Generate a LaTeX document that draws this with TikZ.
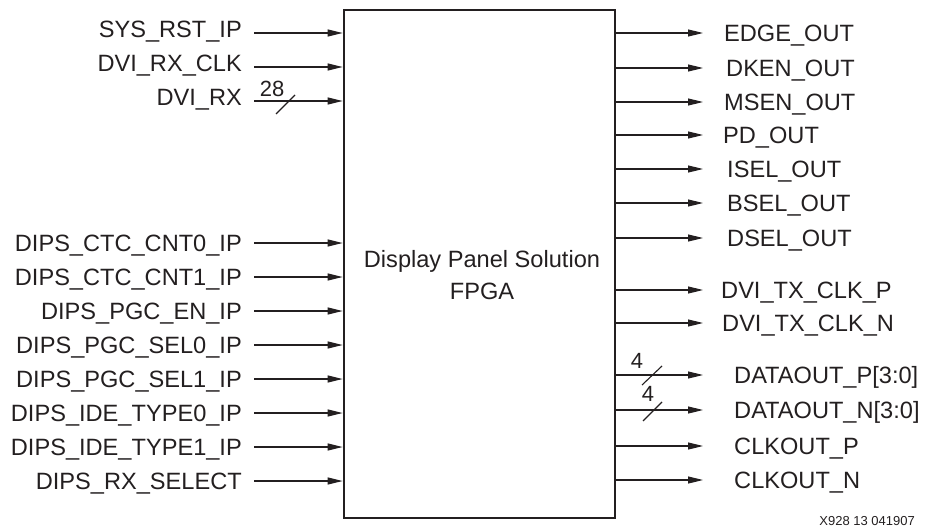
\documentclass[tikz,border=0pt]{standalone}
\usepackage{fontspec}
\setmainfont{Liberation Sans}
\usetikzlibrary{arrows.meta}
\definecolor{ink}{RGB}{35,31,32}
\begin{document}
\begin{tikzpicture}[x=1pt,y=-1pt, color=ink,
  sig/.style={line width=1.1pt,-{Triangle[length=15pt,width=7pt]}},
  lbl/.style={font=\fontsize{23.6}{28}\selectfont, inner sep=0pt, text height=16.9pt, text depth=0pt},
  busmark/.style={line width=1.1pt},
  buslbl/.style={font=\fontsize{22}{26}\selectfont, inner sep=0pt},
  blk/.style={draw, line width=2.7pt, minimum width=271pt, minimum height=508pt, inner sep=0pt},
  ttl/.style={font=\fontsize{23.6}{32}\selectfont, align=center, inner sep=0pt},
  figid/.style={font=\fontsize{13}{15}\selectfont, inner sep=0pt}]
\useasboundingbox (0,0) rectangle (925,527);
\node[blk] (fpga) at (479.5,264) {};
\node[ttl] (fpgatxt) at (482,275) {Display Panel Solution\\FPGA};
% inputs
\foreach \id/\y/\ly/\t in {a/33/29/SYS\_RST\_IP, b/67/63/DVI\_RX\_CLK, c/101/97/DVI\_RX,
  d/243/243/DIPS\_CTC\_CNT0\_IP, e/277/277/DIPS\_CTC\_CNT1\_IP, f/311/311/DIPS\_PGC\_EN\_IP,
  g/345/345/DIPS\_PGC\_SEL0\_IP, h/379/379/DIPS\_PGC\_SEL1\_IP, i/413/413/DIPS\_IDE\_TYPE0\_IP,
  j/447/447/DIPS\_IDE\_TYPE1\_IP, k/481/481/DIPS\_RX\_SELECT}{
  \coordinate (in\id) at (254,\y);
  \node[lbl, anchor=east] (lab\id) at (242,\ly) {\t};
  \draw[sig] (in\id) -- (in\id -| fpga.west);
}
% outputs
\foreach \id/\y/\x/\t in {a/33/724/EDGE\_OUT, b/68/726/DKEN\_OUT, c/102/724/MSEN\_OUT,
  d/135/723/PD\_OUT, e/169/727/ISEL\_OUT, f/203/727/BSEL\_OUT, g/238/727/DSEL\_OUT,
  h/290/721/DVI\_TX\_CLK\_P, i/323/722/DVI\_TX\_CLK\_N, j/375/734/{DATAOUT\_P[3:0]},
  k/410/734/{DATAOUT\_N[3:0]}, l/446/734/CLKOUT\_P, m/480/734/CLKOUT\_N}{
  \coordinate (out\id) at (703,\y);
  \draw[sig] (out\id -| fpga.east) -- (out\id);
  \node[lbl, anchor=west] (olab\id) at (\x,\y) {\t};
}
% bus markers
\draw[busmark] (276,114) -- (295,95);
\node[buslbl] (w28) at (272,89) {28};
\draw[busmark] (642,385) -- (662,366);
\node[buslbl] (w4a) at (637,361) {4};
\draw[busmark] (643,421) -- (662,402);
\node[buslbl] (w4b) at (648,394) {4};
\node[figid, anchor=east] (fid) at (915,521) {X928 13 041907};
\end{tikzpicture}
\end{document}
